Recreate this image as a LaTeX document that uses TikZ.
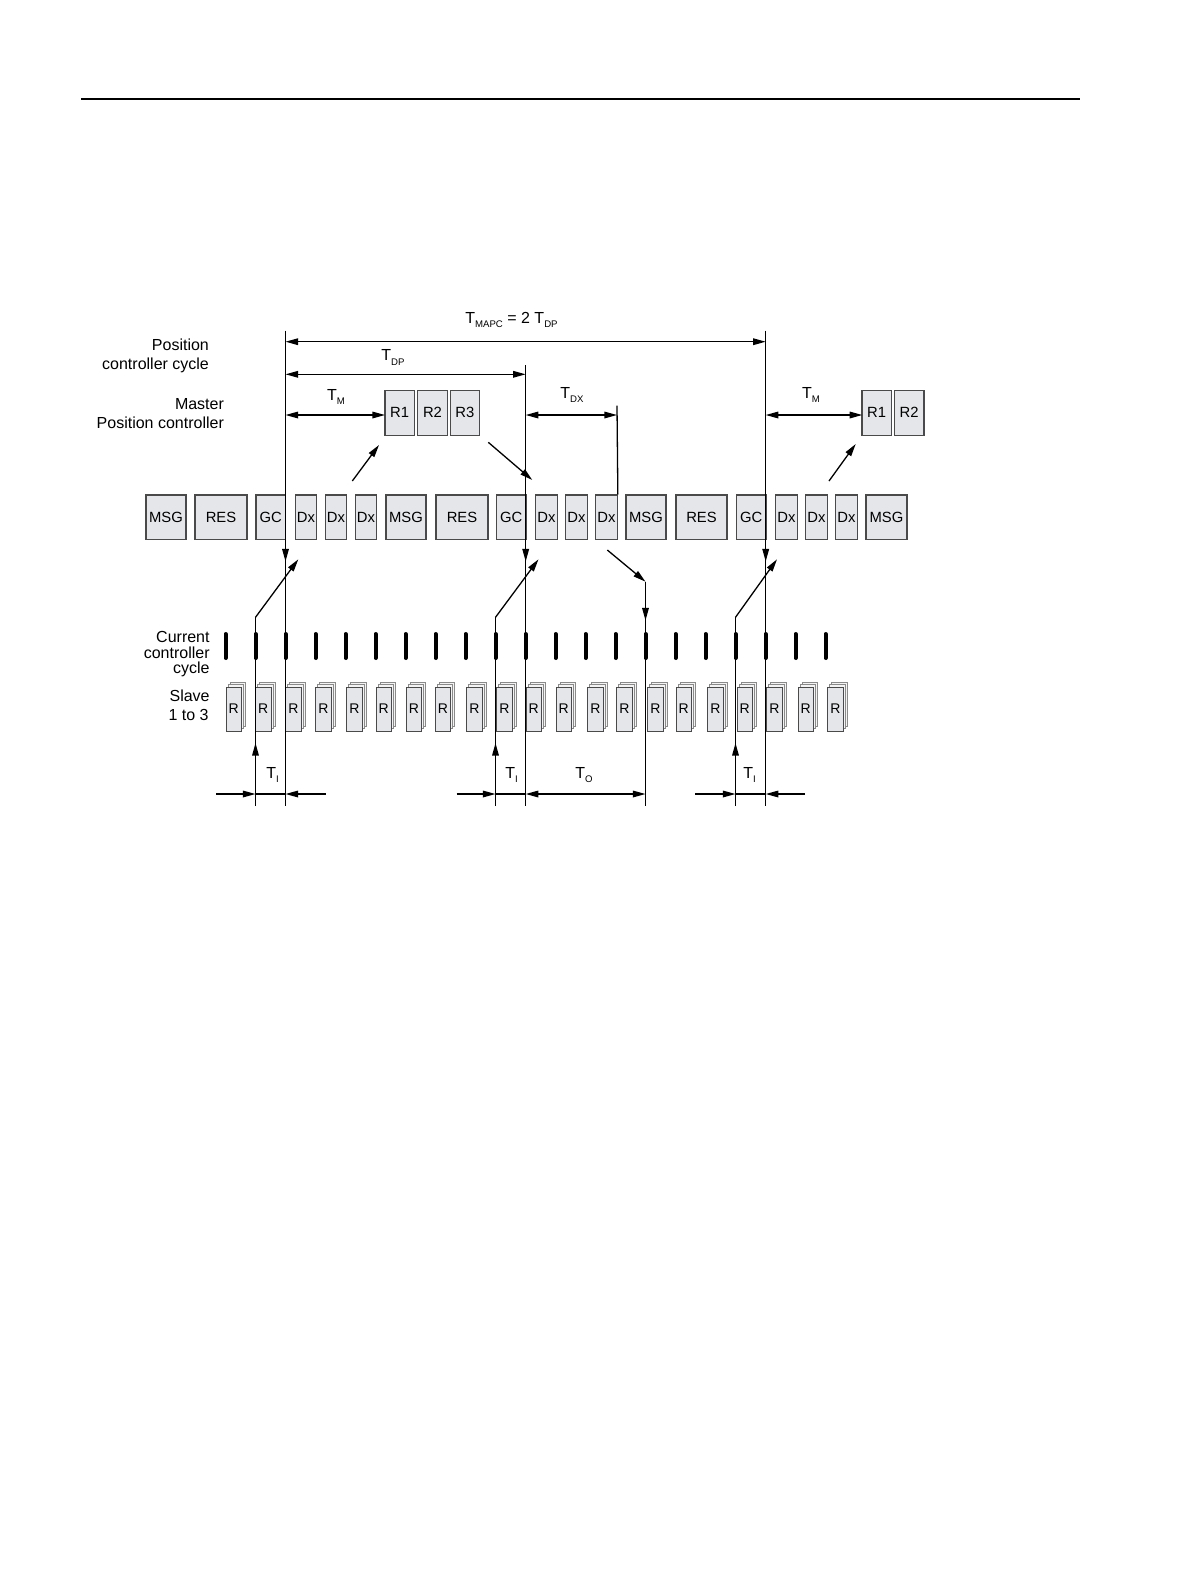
\documentclass[tikz,border=0pt]{standalone}
\usepackage{fontspec}
\setmainfont{Liberation Sans}
\usetikzlibrary{arrows.meta}
\definecolor{boxfill}{HTML}{E4E6E9}
\definecolor{boxline}{HTML}{4A4A4A}
\definecolor{sheetline}{HTML}{8A8A8A}
\definecolor{sheetfill}{HTML}{F4F4F4}
\newcommand{\tsb}[1]{T\raisebox{-2.2pt}{\fontsize{4.8}{5}\selectfont #1}}
\begin{document}
\begin{tikzpicture}[x=0.5pt,y=-0.5pt,
  ln/.style={line width=0.65pt},
  arr/.style={ln,-{Triangle[length=6.3pt,width=3.3pt]}},
  dim/.style={ln,{Triangle[length=6.3pt,width=3.3pt]}-{Triangle[length=6.3pt,width=3.3pt]}},
  side/.style={font=\fontsize{8}{9}\selectfont, inner sep=0, anchor=base east},
  tl/.style={font=\fontsize{8}{9}\selectfont, inner sep=0, anchor=base west},
  blk/.style={draw=boxline, fill=boxfill, line width=0.6pt, inner sep=0, minimum height=22.25pt, font=\fontsize{7.4}{8}\selectfont},
  sheet/.style={draw=sheetline, fill=sheetfill, line width=0.5pt},
  front/.style={draw=boxline, fill=boxfill, line width=0.5pt, inner sep=0, minimum width=7.75pt, minimum height=22pt, font=\fontsize{7}{8}\selectfont},
  tickmark/.style={line width=2pt, line cap=round}]

\useasboundingbox (0,0) rectangle (1191,1587);

% header rule
\coordinate (hl) at (81,99);
\coordinate (hr) at (1080,99);
\draw[line width=0.65pt] (hl) -- (hr);

% side labels
\node[side] (l1) at (209.3,350) {Position};
\node[side] (l2) at (209.3,369) {controller cycle};
\node[side] (l3) at (224.3,409.3) {Master};
\node[side] (l4) at (224.3,428.7) {Position controller};
\node[side] (l5) at (210,642.3) {Current};
\node[side] (l6) at (210,658) {controller};
\node[side] (l7) at (210,673) {cycle};
\node[side] (l8) at (210,701.7) {Slave};
\node[side] (l9) at (209,720.5) {1 to 3};

% bus row
\node[blk, minimum width=20pt] (m1) at (166,517.25) {MSG};
\node[blk, minimum width=26pt] (r1) at (221,517.25) {RES};
\node[blk, minimum width=14.75pt] (g1) at (270.75,517.25) {GC};
\node[blk, minimum width=10.75pt] (d1) at (306,517.25) {Dx};
\node[blk, minimum width=10.75pt] (d2) at (336,517.25) {Dx};
\node[blk, minimum width=10.75pt] (d3) at (366,517.25) {Dx};
\node[blk, minimum width=20pt] (m2) at (406,517.25) {MSG};
\node[blk, minimum width=26pt] (r2) at (462,517.25) {RES};
\node[blk, minimum width=14.75pt] (g2) at (511.25,517.25) {GC};
\node[blk, minimum width=10.75pt] (d4) at (546.5,517.25) {Dx};
\node[blk, minimum width=10.75pt] (d5) at (576.5,517.25) {Dx};
\node[blk, minimum width=10.75pt] (d6) at (606.5,517.25) {Dx};
\node[blk, minimum width=20pt] (m3) at (646,517.25) {MSG};
\node[blk, minimum width=25.5pt] (r3) at (701.5,517.25) {RES};
\node[blk, minimum width=14.75pt] (g3) at (751.25,517.25) {GC};
\node[blk, minimum width=10.75pt] (d7) at (786.5,517.25) {Dx};
\node[blk, minimum width=10.75pt] (d8) at (816.5,517.25) {Dx};
\node[blk, minimum width=10.75pt] (d9) at (846.5,517.25) {Dx};
\node[blk, minimum width=20.5pt] (m4) at (886.5,517.25) {MSG};

% master position controller boxes
\node[blk, minimum width=14.75pt, minimum height=22.5pt] (p1) at (399.7,412.7) {R1};
\node[blk, minimum width=14.75pt, minimum height=22.5pt] (p2) at (432.5,412.7) {R2};
\node[blk, minimum width=14.75pt, minimum height=22.5pt] (p3) at (464.85,412.7) {R3};
\node[blk, minimum width=14.75pt, minimum height=22.5pt] (q1) at (876.7,412.7) {R1};
\node[blk, minimum width=14.75pt, minimum height=22.5pt] (q2) at (909.2,412.7) {R2};

% slave stacks
\foreach \x [count=\i] in {226,255.5,285.7,315.7,346.7,376,406.3,435.3,466.7,496.7,526,556,587.7,616.7,647.7,676,707.7,737,766.7,798,827.7} {
  \draw[sheet] (\x+4,682) rectangle ++(15.5,44);
  \draw[sheet] (\x+2,684.5) rectangle ++(15.5,44);
  \node[front] (s\i) at (\x+7.75,709) {R};
}

% current controller cycle ticks
\foreach \i in {0,...,20} {
  \draw[tickmark] ({225.5+30*\i},634) -- ({225.5+30*\i},658);
}

% main vertical lines
\coordinate (Atop) at (285.5,330.7); \coordinate (Abot) at (285.5,806);
\coordinate (Btop) at (525.7,365.3); \coordinate (Bbot) at (525.7,806);
\coordinate (Ctop) at (765.7,330.7); \coordinate (Cbot) at (765.7,806);
\coordinate (Xtop) at (617,405.7);
\draw[ln] (Atop) -- (Abot);
\draw[ln] (Btop) -- (Bbot);
\draw[ln] (Ctop) -- (Cbot);
\draw[ln] (Xtop) -- (d6.north east);
\draw[arr] (285.5,540) -- (285.5,561.5);
\draw[arr] (525.7,540) -- (525.7,561.5);
\draw[arr] (765.7,540) -- (765.7,561.5);

% input paths T_I
\coordinate (I1top) at (255.5,617.3); \coordinate (I1bot) at (255.5,806); \coordinate (I1tip) at (298.3,559.3);
\coordinate (I2top) at (495.5,617.3); \coordinate (I2bot) at (495.5,806); \coordinate (I2tip) at (538.5,559.3);
\coordinate (I3top) at (735.5,617.3); \coordinate (I3bot) at (735.5,806); \coordinate (I3tip) at (777,559.3);
\draw[ln] (I1bot) -- (I1top); \draw[arr] (I1top) -- (I1tip); \draw[arr] (255.5,762) -- (255.5,743);
\draw[ln] (I2bot) -- (I2top); \draw[arr] (I2top) -- (I2tip); \draw[arr] (495.5,762) -- (495.5,743);
\draw[ln] (I3bot) -- (I3top); \draw[arr] (I3top) -- (I3tip); \draw[arr] (735.5,762) -- (735.5,743);

% output path T_O
\coordinate (Os) at (607.3,550); \coordinate (Oc) at (645.5,581.7); \coordinate (Ob) at (645.5,806);
\draw[arr] (Os) -- (Oc);
\draw[ln] (Oc) -- (Ob);
\draw[arr] (645.5,600) -- (645.5,620.5);

% master diagonal arrows
\draw[arr] (352.3,481) -- (379,445);
\draw[arr] (488.3,442.3) -- (532.3,480);
\draw[arr] (829,481) -- (855.7,444);

% dimension arrows (top)
\draw[dim] (285.5,341.7) -- (765.7,341.7);
\draw[dim] (285.5,374.3) -- (525.7,374.3);
\draw[dim] (285.5,415) -- (385,415);
\draw[dim] (525.7,415) -- (617,415);
\draw[dim] (765.7,415) -- (862.3,415);

% dimension arrows (bottom)
\draw[arr] (216,794) -- (255.5,794);
\draw[ln] (255.5,794) -- (285.5,794);
\draw[arr] (325.7,794) -- (285.5,794);
\draw[arr] (456.7,794) -- (495.5,794);
\draw[ln] (495.5,794) -- (525.7,794);
\draw[dim] (525.7,794) -- (645.5,794);
\draw[arr] (695,794) -- (735.5,794);
\draw[ln] (735.5,794) -- (765.7,794);
\draw[arr] (805,794) -- (765.7,794);

% time labels
\node[tl] (tmapc) at (465,323.3) {\tsb{MAPC} = 2 \tsb{DP}};
\node[tl] (tdp) at (381,360.7) {\tsb{DP}};
\node[tl] (tm1) at (326.7,400) {\tsb{M}};
\node[tl] (tdx) at (560,398.3) {\tsb{DX}};
\node[tl] (tm2) at (801.7,398.3) {\tsb{M}};
\node[tl] (ti1) at (266,778.5) {\tsb{I}};
\node[tl] (ti2) at (505,778.5) {\tsb{I}};
\node[tl] (ti3) at (743,778.5) {\tsb{I}};
\node[tl] (to) at (575,778.5) {\tsb{O}};
\end{tikzpicture}
\end{document}
